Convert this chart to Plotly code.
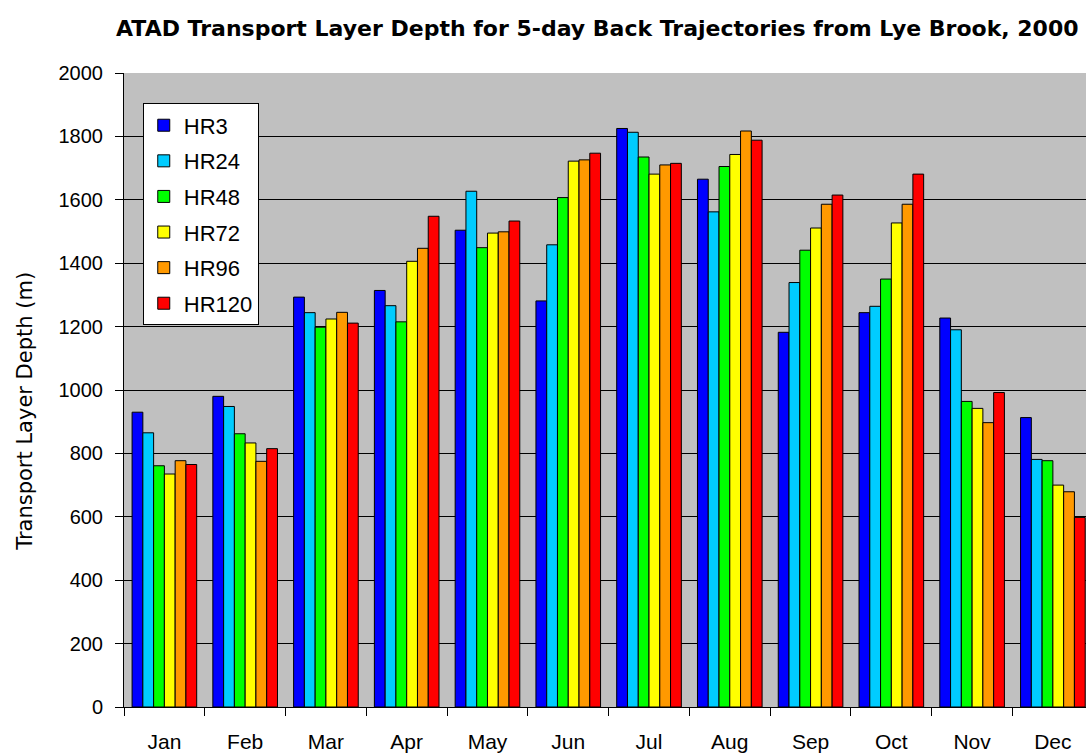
import plotly.graph_objects as go

months = ["Jan", "Feb", "Mar", "Apr", "May", "Jun",
          "Jul", "Aug", "Sep", "Oct", "Nov", "Dec"]

hr3 = [930, 980, 1293, 1314, 1504, 1281, 1825, 1665, 1182, 1244, 1227, 913]
hr24 = [865, 948, 1244, 1266, 1627, 1458, 1813, 1562, 1339, 1264, 1190, 781]
hr48 = [761, 862, 1198, 1215, 1449, 1607, 1735, 1705, 1441, 1350, 964, 777]
hr72 = [735, 833, 1224, 1406, 1495, 1722, 1681, 1743, 1511, 1527, 942, 700]
hr96 = [777, 775, 1245, 1447, 1499, 1726, 1710, 1817, 1586, 1586, 897, 679]
hr120 = [765, 815, 1211, 1548, 1533, 1747, 1715, 1788, 1615, 1681, 992, 598]

series = [
    ("HR3", hr3, "#0000FF"),
    ("HR24", hr24, "#00CCFF"),
    ("HR48", hr48, "#00FF00"),
    ("HR72", hr72, "#FFFF00"),
    ("HR96", hr96, "#FF9900"),
    ("HR120", hr120, "#FF0000"),
]

FONT = "Arial, Liberation Sans, sans-serif"
WIDE = "DejaVu Sans, sans-serif"

fig = go.Figure()
for name, vals, color in series:
    fig.add_trace(go.Bar(
        x=months, y=vals, name=name, legendgroup=name,
        marker=dict(color=color, line=dict(color="#000000", width=1)),
    ))

# y-axis caption placed as a rotated annotation, sitting slightly below centre
fig.add_annotation(
    text="Transport Layer Depth (m)",
    xref="paper", yref="paper", x=-0.103, y=0.467,
    xanchor="center", yanchor="middle", textangle=-90,
    showarrow=False, font=dict(family=WIDE, size=21, color="#000000"),
)

fig.update_layout(
    width=1086, height=755,
    margin=dict(l=124, r=0, t=73, b=48),
    paper_bgcolor="#FFFFFF",
    plot_bgcolor="#C0C0C0",
    barmode="group", bargap=0.2, bargroupgap=0,
    font=dict(family=FONT, size=19, color="#000000"),
    title=dict(
        text="<b>ATAD Transport Layer Depth for 5-day Back Trajectories from Lye Brook, 2000</b>",
        x=0.55, xanchor="center", y=0.963, yanchor="middle",
        font=dict(family=WIDE, size=22, color="#000000"),
    ),
    legend=dict(
        x=0.0195, xanchor="left", y=0.952, yanchor="top",
        bgcolor="#FFFFFF", bordercolor="#000000", borderwidth=1,
        font=dict(family=FONT, size=22),
        traceorder="grouped", tracegroupgap=4,
    ),
    xaxis=dict(
        type="category", range=[-0.5, 11.41],
        showline=True, linecolor="#000000", linewidth=1,
        ticks="outside", tickson="boundaries", ticklen=8, tickcolor="#000000",
        ticklabelstandoff=16,
        showgrid=False,
        tickfont=dict(family=FONT, size=21),
    ),
    yaxis=dict(
        range=[0, 2000], dtick=200,
        showline=True, linecolor="#000000", linewidth=1,
        ticks="outside", ticklen=8, tickcolor="#000000",
        ticklabelstandoff=8,
        showgrid=True, gridcolor="#000000", gridwidth=1,
        zeroline=False,
        tickfont=dict(family=FONT, size=20),
    ),
)

fig.write_html("out.html")
